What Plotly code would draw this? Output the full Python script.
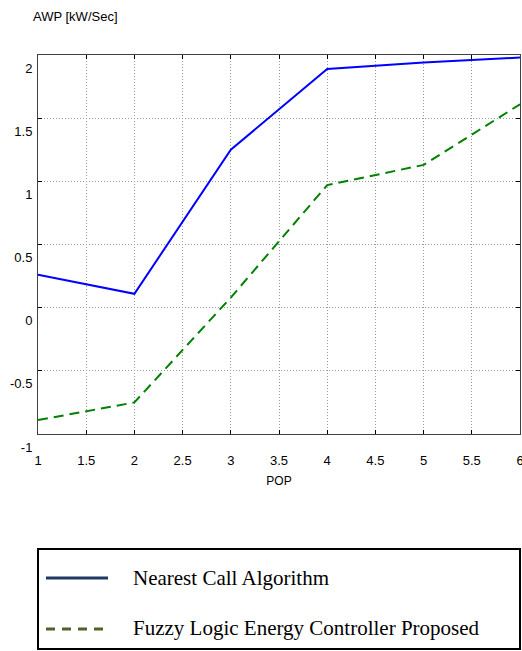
import plotly.graph_objects as go

pop = [1, 2, 3, 4, 5, 6]
nearest_call = [0.26, 0.11, 1.25, 1.89, 1.94, 1.98]
fuzzy_logic = [-0.89, -0.75, 0.08, 0.97, 1.13, 1.61]
x_ticks = [1, 1.5, 2, 2.5, 3, 3.5, 4, 4.5, 5, 5.5, 6]
y_ticks = [-1, -0.5, 0, 0.5, 1, 1.5, 2]
series_names = ["Nearest Call Algorithm", "Fuzzy Logic Energy Controller Proposed"]

W, H = 522, 651
L, T = 38, 55
R = W - 520
B = H - 434
pw, ph = W - L - R, H - T - B

def px(X):
    return (X - L) / pw

def py(Y):
    return (H - B - Y) / ph

fig = go.Figure()
fig.add_trace(go.Scatter(x=pop, y=nearest_call, mode="lines", name=series_names[0],
                         line=dict(color="#0000ff", width=2), showlegend=False))
fig.add_trace(go.Scatter(x=pop, y=fuzzy_logic, mode="lines", name=series_names[1],
                         line=dict(color="#008000", width=2, dash="10px,6px"), showlegend=False))

tick_font = dict(family="Liberation Sans, Arial", size=13, color="#000")
axis_common = dict(showgrid=True, gridcolor="#9a9a9a", griddash="1px,2px", gridwidth=1,
                   showline=True, linecolor="#404040", linewidth=1, mirror="ticks",
                   ticks="inside", ticklen=4, tickcolor="#000000", zeroline=False,
                   ticklabeloverflow="allow", tickfont=tick_font)

fig.update_xaxes(range=[1, 6], tickvals=x_ticks, ticktext=[str(v) for v in x_ticks],
                 ticklabelstandoff=14,
                 title=dict(text="POP", font=dict(family="Liberation Sans, Arial", size=12, color="#000"), standoff=10),
                 **axis_common)
fig.update_yaxes(range=[-1, 2], tickvals=y_ticks, ticktext=[str(v) for v in y_ticks],
                 ticklabelshift=13, ticklabelstandoff=2,
                 **axis_common)

# y-axis title at top-left
fig.add_annotation(text="AWP [kW/Sec]", xref="paper", yref="paper", x=px(31), y=py(16),
                   xanchor="left", yanchor="middle", showarrow=False,
                   font=dict(family="Liberation Sans, Arial", size=13, color="#000"))

# legend box
shapes = [
    dict(type="rect", xref="paper", yref="paper", x0=px(38), x1=px(520), y0=py(549), y1=py(649),
         line=dict(color="#000", width=2), fillcolor="rgba(0,0,0,0)"),
    dict(type="line", xref="paper", yref="paper", x0=px(46), x1=px(108), y0=py(578), y1=py(578),
         line=dict(color="#1f3864", width=3)),
    dict(type="line", xref="paper", yref="paper", x0=px(46), x1=px(108), y0=py(629), y1=py(629),
         line=dict(color="#4f6228", width=3, dash="9px,7px")),
]
for s in shapes:
    fig.add_shape(**s)
legend_font = dict(family="Liberation Serif, Times New Roman", size=21, color="#000")
fig.add_annotation(text=series_names[0], xref="paper", yref="paper", x=px(131), y=py(578),
                   xanchor="left", yanchor="middle", showarrow=False, font=legend_font)
fig.add_annotation(text=series_names[1], xref="paper", yref="paper", x=px(131), y=py(628),
                   xanchor="left", yanchor="middle", showarrow=False, font=legend_font)

fig.update_layout(width=W, height=H, margin=dict(l=L, r=R, t=T, b=B, autoexpand=False),
                  plot_bgcolor="#fff", paper_bgcolor="#fff")
fig.write_html("out.html", config={"displayModeBar": False},
               post_script="document.body.style.margin='0';document.body.style.overflow='hidden';")
